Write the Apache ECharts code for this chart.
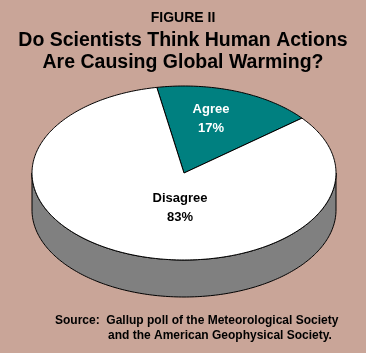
<!DOCTYPE html>
<html>
<head>
<meta charset="utf-8">
<script src="https://cdn.jsdelivr.net/npm/echarts@6/dist/echarts.min.js"></script>
<style>
  html, body { margin: 0; padding: 0; background: #c9a598; }
  #chart { width: 366px; height: 353px; }
</style>
</head>
<body>
<div id="chart"></div>
<script>
// ===== 数据 =====
const categories = ['Agree', 'Disagree']
const values = [17, 83]
const topColors = ['#008080', '#ffffff']
const sideColors = ['#005050', '#808080']
const labelColors = ['#ffffff', '#000000']

// ===== 饼图布局（椭圆 + 厚度） =====
const CX = 184, CY = 173, RX = 152, RY = 87, DEPTH = 37
const START = -10.3 // 第一块起始角度（从正上方顺时针）
const labelPos = [[211, 119], [180, 208]]

const total = values.reduce((s, v) => s + v, 0)
const starts = []
let acc = START
for (const v of values) { starts.push(acc); acc += v / total * 360 }

const rad = (d) => d * Math.PI / 180
const pt = (deg, dy = 0) => [CX + RX * Math.sin(rad(deg)), CY - RY * Math.cos(rad(deg)) + dy]

function arc(a, b, dy) {
  const pts = []
  const n = Math.max(2, Math.ceil(Math.abs(b - a)))
  for (let i = 0; i <= n; i++) pts.push(pt(a + (b - a) * i / n, dy))
  return pts
}

function renderSide(params, api) {
  const i = params.dataIndex
  const a = starts[i], b = a + api.value(0) / total * 360
  // 只画前半部分（90°..270°）的侧面
  const lo = Math.max(a, 90), hi = Math.min(b, 270)
  if (hi <= lo) return
  const top = arc(lo, hi, 0)
  const bottom = arc(hi, lo, DEPTH)
  return {
    type: 'polygon',
    shape: { points: top.concat(bottom) },
    style: { fill: sideColors[i], stroke: '#000', lineWidth: 1 }
  }
}

function renderTop(params, api) {
  const i = params.dataIndex
  const a = starts[i], b = a + api.value(0) / total * 360
  const pts = [[CX, CY]].concat(arc(a, b, 0))
  return {
    type: 'group',
    children: [{
      type: 'polygon',
      shape: { points: pts },
      style: { fill: topColors[i], stroke: '#000', lineWidth: 1 }
    }, {
      type: 'text',
      x: labelPos[i][0], y: labelPos[i][1],
      style: {
        text: categories[i] + '\n' + api.value(0) + '%',
        fill: labelColors[i],
        font: 'bold 13px "Liberation Sans", Arial, sans-serif',
        align: 'center', verticalAlign: 'middle', lineHeight: 19
      }
    }]
  }
}

const seriesData = values.map((v, i) => ({ value: [v], name: categories[i] }))

const font = '"Liberation Sans", Arial'
const chart = echarts.init(document.getElementById('chart'))
chart.setOption({
  backgroundColor: '#c9a598',
  animation: false,
  title: [{
    text: 'FIGURE II',
    left: 'center', top: 6,
    textStyle: { fontFamily: font, fontWeight: 'bold', fontSize: 14, color: '#000' }
  }, {
    text: 'Do Scientists Think Human Actions',
    left: 'center', top: 26,
    textStyle: { fontFamily: font, fontWeight: 'bold', fontSize: 19.5, color: '#000' }
  }, {
    text: 'Are Causing Global Warming?',
    left: 'center', top: 48,
    textStyle: { fontFamily: font, fontWeight: 'bold', fontSize: 19.5, color: '#000' }
  }, {
    text: 'Source:  Gallup poll of the Meteorological Society',
    left: 50, top: 310,
    textStyle: { fontFamily: font, fontWeight: 'bold', fontSize: 12, color: '#000' }
  }, {
    text: 'and the American Geophysical Society.',
    left: 103, top: 325,
    textStyle: { fontFamily: font, fontWeight: 'bold', fontSize: 12, color: '#000' }
  }],
  series: [{
    type: 'custom',
    coordinateSystem: 'none',
    renderItem: renderSide,
    data: seriesData,
    z: 1
  }, {
    type: 'custom',
    coordinateSystem: 'none',
    renderItem: renderTop,
    data: seriesData,
    z: 2
  }]
})
</script>
</body>
</html>
